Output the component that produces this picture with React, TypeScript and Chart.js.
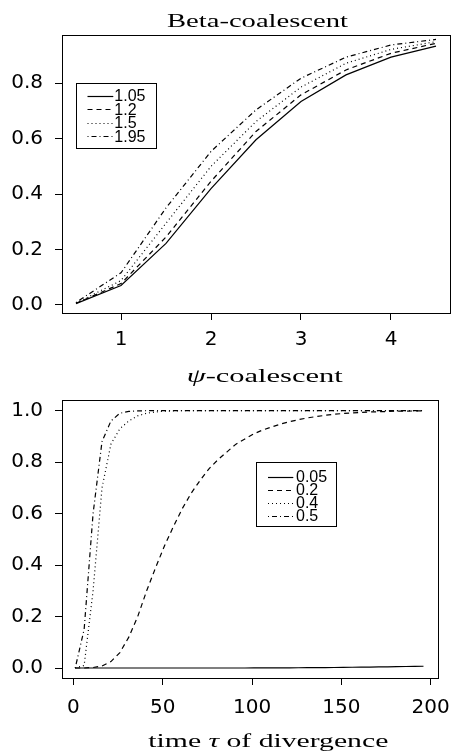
import React, { useEffect, useRef } from 'react';
import { Chart, registerables } from 'chart.js';

Chart.register(...registerables);

// ---------- Beta-coalescent data ----------
const betaX = [0.5, 1, 1.5, 2, 2.5, 3, 3.5, 4, 4.5];
const beta105 = [0.005, 0.07, 0.222, 0.42, 0.596, 0.734, 0.83, 0.894, 0.934];
const beta12 = [0.006, 0.077, 0.245, 0.446, 0.626, 0.758, 0.848, 0.908, 0.944];
const beta15 = [0.007, 0.088, 0.295, 0.5, 0.662, 0.786, 0.872, 0.922, 0.95];
const beta195 = [0.009, 0.116, 0.35, 0.554, 0.704, 0.818, 0.894, 0.938, 0.958];
const betaLegend = ['1.05', '1.2', '1.5', '1.95'];
const betaYTicks = [0, 0.2, 0.4, 0.6, 0.8];
const betaYLabels = ['0.0', '0.2', '0.4', '0.6', '0.8'];
const betaXTicks = [1, 2, 3, 4];
const betaXLabels = ['1', '2', '3', '4'];

// ---------- psi-coalescent data ----------
const psiX = [
  1, 6, 11, 16, 21, 26, 31, 36, 41, 46, 51, 56, 61, 66, 71, 76, 81, 86, 91, 96,
  101, 106, 111, 116, 121, 126, 131, 136, 141, 146, 151, 156, 161, 166, 171, 176, 181, 186, 191, 196,
];
const psi005 = [
  0, 0, 0, 0, 0, 0, 0, 0, 0, 0, 0, 0, 0, 0, 0, 0, 0, 0, 0, 0,
  0.0002, 0.0003, 0.0004, 0.0006, 0.0008, 0.001, 0.0012, 0.0015, 0.0018, 0.0021,
  0.0025, 0.0029, 0.0033, 0.0038, 0.0043, 0.0048, 0.0053, 0.0058, 0.0063, 0.0068,
];
const psi02 = [
  0, 0, 0.002, 0.008, 0.025, 0.06, 0.12, 0.2, 0.3, 0.39,
  0.475, 0.55, 0.62, 0.68, 0.73, 0.775, 0.81, 0.84, 0.87, 0.89,
  0.91, 0.925, 0.937, 0.948, 0.957, 0.965, 0.972, 0.977, 0.982, 0.986,
  0.989, 0.991, 0.993, 0.995, 0.996, 0.997, 0.998, 0.998, 0.999, 0.999,
];
const psi04 = [
  0, 0.01, 0.3, 0.7, 0.87, 0.93, 0.96, 0.98, 0.99, 0.995,
  0.998, 0.999, 1, 1, 1, 1, 1, 1, 1, 1,
  1, 1, 1, 1, 1, 1, 1, 1, 1, 1,
  1, 1, 1, 1, 1, 1, 1, 1, 1, 1,
];
const psi05 = [
  0, 0.15, 0.6, 0.88, 0.96, 0.99, 0.997, 0.999, 1, 1,
  1, 1, 1, 1, 1, 1, 1, 1, 1, 1,
  1, 1, 1, 1, 1, 1, 1, 1, 1, 1,
  1, 1, 1, 1, 1, 1, 1, 1, 1, 1,
];
const psiLegend = ['0.05', '0.2', '0.4', '0.5'];
const psiYTicks = [0, 0.2, 0.4, 0.6, 0.8, 1.0];
const psiYLabels = ['0.0', '0.2', '0.4', '0.6', '0.8', '1.0'];
const psiXTicks = [0, 50, 100, 150, 200];
const psiXLabels = ['0', '50', '100', '150', '200'];

// ---------- styles ----------
const DASHES: number[][] = [[], [5, 4], [1, 3], [1, 3, 5, 3]];
const SANS = '"DejaVu Sans", sans-serif';
const LEGEND_SANS = '"Liberation Sans", Arial, sans-serif';
const SERIF = '"Liberation Serif", "DejaVu Serif", serif';

type Run = { text: string; italic?: boolean };

function drawRuns(ctx: CanvasRenderingContext2D, runs: Run[], cx: number, baseline: number, size: number, targetWidth: number) {
  ctx.save();
  const fonts = runs.map((r) => `${r.italic ? 'italic ' : ''}${size}px ${SERIF}`);
  let total = 0;
  const widths = runs.map((r, i) => {
    ctx.font = fonts[i];
    const w = ctx.measureText(r.text).width;
    total += w;
    return w;
  });
  const sx = targetWidth / total;
  ctx.translate(cx - targetWidth / 2, baseline);
  ctx.scale(sx, 1);
  ctx.fillStyle = '#000';
  ctx.textAlign = 'left';
  ctx.textBaseline = 'alphabetic';
  let x = 0;
  runs.forEach((r, i) => {
    ctx.font = fonts[i];
    ctx.fillText(r.text, x, 0);
    x += widths[i];
  });
  ctx.restore();
}

type LegendSpec = {
  box: [number, number, number, number];
  labels: string[];
  lineX0: number;
  lineX1: number;
  textX: number;
  rowY0: number;
  rowStep: number;
};

function drawLegend(ctx: CanvasRenderingContext2D, spec: LegendSpec) {
  const [x0, y0, x1, y1] = spec.box;
  ctx.save();
  ctx.fillStyle = '#fff';
  ctx.fillRect(x0, y0, x1 - x0, y1 - y0);
  ctx.strokeStyle = '#000';
  ctx.lineWidth = 1;
  ctx.strokeRect(Math.round(x0) + 0.5, Math.round(y0) + 0.5, Math.round(x1 - x0), Math.round(y1 - y0));
  spec.labels.forEach((lab, i) => {
    const y = spec.rowY0 + i * spec.rowStep;
    ctx.setLineDash(DASHES[i]);
    ctx.lineWidth = 1.2;
    ctx.beginPath();
    ctx.moveTo(spec.lineX0, Math.round(y) + 0.5);
    ctx.lineTo(spec.lineX1, Math.round(y) + 0.5);
    ctx.stroke();
    ctx.setLineDash([]);
    ctx.font = `16px ${LEGEND_SANS}`;
    ctx.fillStyle = '#000';
    ctx.textAlign = 'left';
    ctx.textBaseline = 'alphabetic';
    ctx.fillText(lab, spec.textX, y + 5.8);
  });
  ctx.restore();
}

type ChartSpec = {
  xs: number[];
  series: number[][];
  xMin: number;
  xMax: number;
  yMin: number;
  yMax: number;
  xTicks: number[];
  xLabels: string[];
  yTicks: number[];
  yLabels: string[];
  padTop: number;
  padRight: number;
  xAxisHeight: number;
  xLabelPad: number;
  title: Run[];
  titleX: number;
  titleBaseline: number;
  titleWidth: number;
  xTitle?: Run[];
  xTitleX?: number;
  xTitleBaseline?: number;
  xTitleWidth?: number;
  legend: LegendSpec;
};

function makeChart(canvas: HTMLCanvasElement, s: ChartSpec) {
  const decor = {
    id: 'decor',
    afterDraw(chart: any) {
      const ctx: CanvasRenderingContext2D = chart.ctx;
      const a = chart.chartArea;
      ctx.save();
      ctx.strokeStyle = '#000';
      ctx.lineWidth = 1;
      ctx.strokeRect(Math.round(a.left) + 0.5, Math.round(a.top) + 0.5, Math.round(a.right - a.left), Math.round(a.bottom - a.top));
      ctx.restore();
      drawRuns(ctx, s.title, s.titleX, s.titleBaseline, 19.5, s.titleWidth);
      if (s.xTitle) drawRuns(ctx, s.xTitle, s.xTitleX!, s.xTitleBaseline!, 19.5, s.xTitleWidth!);
      drawLegend(ctx, s.legend);
    },
  };
  const datasets = s.series.map((ys, i) => ({
    label: s.legend.labels[i],
    data: s.xs.map((x, j) => ({ x, y: ys[j] })),
    borderColor: '#000',
    borderWidth: 1.2,
    borderDash: DASHES[i],
    pointRadius: 0,
    tension: 0,
    fill: false,
  }));
  const grid = { drawOnChartArea: false, drawTicks: true, tickLength: 7, color: '#000', lineWidth: 1 };
  return new Chart(canvas, {
    type: 'line',
    data: { datasets },
    plugins: [decor],
    options: {
      responsive: false,
      animation: false,
      devicePixelRatio: 1,
      layout: { padding: { top: s.padTop, right: s.padRight, left: 0, bottom: 0 } },
      plugins: { legend: { display: false }, title: { display: false }, tooltip: { enabled: false } },
      scales: {
        x: {
          type: 'linear',
          min: s.xMin,
          max: s.xMax,
          grid,
          border: { display: false },
          afterBuildTicks: (sc: any) => { sc.ticks = s.xTicks.map((v) => ({ value: v })); },
          afterFit: (sc: any) => { sc.height = s.xAxisHeight; },
          ticks: {
            autoSkip: false,
            maxRotation: 0,
            padding: s.xLabelPad,
            color: '#000',
            font: { family: SANS, size: 20 },
            callback: (_v: any, i: number) => s.xLabels[i],
          },
        },
        y: {
          type: 'linear',
          min: s.yMin,
          max: s.yMax,
          grid,
          border: { display: false },
          afterBuildTicks: (sc: any) => { sc.ticks = s.yTicks.map((v) => ({ value: v })); },
          afterFit: (sc: any) => { sc.width = 62; },
          ticks: {
            autoSkip: false,
            padding: 12,
            color: '#000',
            font: { family: SANS, size: 20 },
            callback: (_v: any, i: number) => s.yLabels[i],
          },
        },
      },
    } as any,
  });
}

export default function App() {
  const topRef = useRef<HTMLCanvasElement>(null);
  const botRef = useRef<HTMLCanvasElement>(null);

  useEffect(() => {
    const c1 = makeChart(topRef.current!, {
      xs: betaX,
      series: [beta105, beta12, beta15, beta195],
      xMin: 0.3444,
      xMax: 4.6556,
      yMin: -0.029,
      yMax: 0.974,
      xTicks: betaXTicks,
      xLabels: betaXLabels,
      yTicks: betaYTicks,
      yLabels: betaYLabels,
      padTop: 35,
      padRight: 11,
      xAxisHeight: 47,
      xLabelPad: 8,
      title: [{ text: 'Beta-coalescent' }],
      titleX: 257.5,
      titleBaseline: 27,
      titleWidth: 181,
      legend: {
        box: [76, 82.7, 156.3, 147.5],
        labels: betaLegend,
        lineX0: 87.5,
        lineX1: 113.3,
        textX: 114.3,
        rowY0: 95.5,
        rowStep: 13.5,
      },
    });
    const c2 = makeChart(botRef.current!, {
      xs: psiX,
      series: [psi005, psi02, psi04, psi05],
      xMin: -6.4,
      xMax: 204.1,
      yMin: -0.0388,
      yMax: 1.0415,
      xTicks: psiXTicks,
      xLabels: psiXLabels,
      yTicks: psiYTicks,
      yLabels: psiYLabels,
      padTop: 45,
      padRight: 14,
      xAxisHeight: 76,
      xLabelPad: 11,
      title: [{ text: 'ψ', italic: true }, { text: '-coalescent' }],
      titleX: 264.7,
      titleBaseline: 27,
      titleWidth: 156,
      xTitle: [{ text: 'time ' }, { text: 'τ', italic: true }, { text: ' of divergence' }],
      xTitleX: 268.3,
      xTitleBaseline: 392,
      xTitleWidth: 240,
      legend: {
        box: [256, 107.3, 336, 171.7],
        labels: psiLegend,
        lineX0: 268,
        lineX1: 293.3,
        textX: 296,
        rowY0: 121.5,
        rowStep: 13,
      },
    });
    return () => {
      c1.destroy();
      c2.destroy();
    };
  }, []);

  return (
    <div style={{ position: 'absolute', left: 0, top: 0, width: 461, height: 754, background: '#fff' }}>
      <canvas ref={topRef} width={461} height={360} style={{ position: 'absolute', left: 0, top: 0, width: 461, height: 360 }} />
      <canvas ref={botRef} width={461} height={399} style={{ position: 'absolute', left: 0, top: 355, width: 461, height: 399 }} />
    </div>
  );
}
